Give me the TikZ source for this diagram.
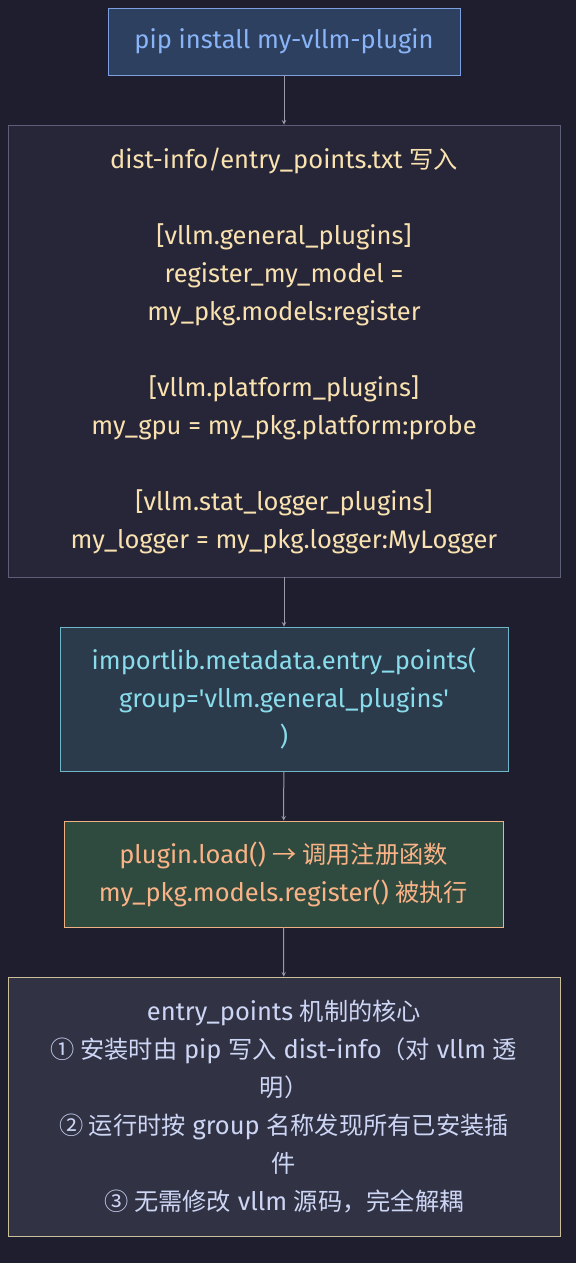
\documentclass[tikz,border=0pt]{standalone}
\usepackage{fontspec}
\setmainfont{Fira Sans}
\newfontfamily\cjk[Scale=0.95]{Noto Sans CJK SC}
\usepackage{tikz}
\usetikzlibrary{arrows}

\definecolor{bgcol}{HTML}{1E1E2E}
\definecolor{linecol}{HTML}{9A9AAA}
\definecolor{pipfill}{HTML}{2D4060}
\definecolor{pipdraw}{HTML}{7B9FE0}
\definecolor{piptext}{HTML}{8AB4F8}
\definecolor{epfill}{HTML}{262638}
\definecolor{epdraw}{HTML}{5C5F77}
\definecolor{eptext}{HTML}{F9E2AF}
\definecolor{imfill}{HTML}{2B3B4B}
\definecolor{imdraw}{HTML}{6FB6C8}
\definecolor{imtext}{HTML}{89DCEB}
\definecolor{ldfill}{HTML}{2F4A3F}
\definecolor{lddraw}{HTML}{F0B080}
\definecolor{ldtext}{HTML}{FAB387}
\definecolor{cofill}{HTML}{313244}
\definecolor{codraw}{HTML}{CBBF9A}
\definecolor{cotext}{HTML}{CDD6F4}

\tikzset{
  stepbox/.style={draw, line width=0.9pt, inner sep=0pt, align=center,
    font=\fontsize{25.5}{38}\selectfont},
  flow/.style={->, >=stealth, line width=1pt, color=linecol}
}

\begin{document}
\begin{tikzpicture}[x=1pt, y=-1pt]

% Background
\fill[bgcol] (0,0) rectangle (576,1263);
\useasboundingbox (0,0) rectangle (576,1263);

% pip install
\node[stepbox, fill=pipfill, draw=pipdraw, text=piptext,
  minimum width=352pt, minimum height=67pt] (pip) at (284, 41.5)
  {pip install my-vllm-plugin};

% entry_points.txt
\node[stepbox, fill=epfill, draw=epdraw, text=eptext,
  minimum width=552pt, minimum height=452pt] (entry) at (284, 351)
  {dist-info/entry\_points.txt {\cjk 写入}\\[38pt]
   [vllm.general\_plugins]\\
   register\_my\_model =\\
   my\_pkg.models:register\\[38pt]
   [vllm.platform\_plugins]\\
   my\_gpu = my\_pkg.platform:probe\\[38pt]
   [vllm.stat\_logger\_plugins]\\
   my\_logger = my\_pkg.logger:MyLogger};

% importlib
\node[stepbox, fill=imfill, draw=imdraw, text=imtext,
  minimum width=448pt, minimum height=144pt] (imp) at (284, 699)
  {importlib.metadata.entry\_points(\\
   group=\textquotesingle vllm.general\_plugins\textquotesingle\\
   )};

% plugin.load
\node[stepbox, fill=ldfill, draw=lddraw, text=ldtext,
  minimum width=439pt, minimum height=106pt] (load) at (283.5, 874)
  {plugin.load() {\cjk → 调用注册函数}\\
   my\_pkg.models.register() {\cjk 被执行}};

% Core idea
\node[stepbox, fill=cofill, draw=codraw, text=cotext,
  minimum width=552pt, minimum height=259pt] (core) at (284, 1106.5)
  {entry\_points {\cjk 机制的核心}\\
   {\cjk ① 安装时由} pip {\cjk 写入} dist-info{\cjk （对} vllm {\cjk 透}\\
   {\cjk 明）}\\
   {\cjk ② 运行时按} group {\cjk 名称发现所有已安装插}\\
   {\cjk 件}\\
   {\cjk ③ 无需修改} vllm {\cjk 源码，完全解耦}};

% Arrows
\draw[flow] (pip) -- (entry);
\draw[flow] (entry) -- (imp);
\draw[flow] (imp) -- (load);
\draw[flow] (load) -- (core);

\end{tikzpicture}
\end{document}
